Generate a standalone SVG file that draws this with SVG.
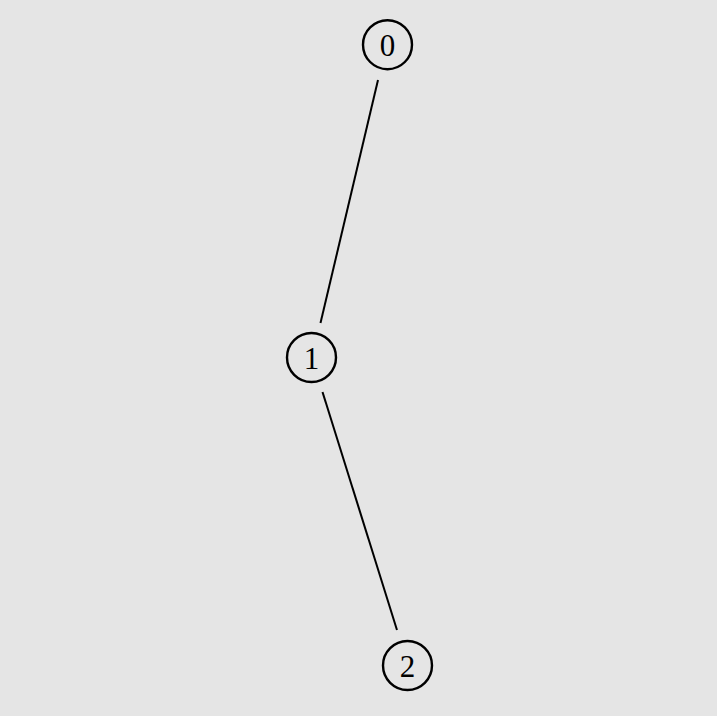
<svg xmlns="http://www.w3.org/2000/svg" width="717" height="716" viewBox="0 0 717 716">
<style>
.n circle{fill:none;stroke:#000;stroke-width:2.4}
.n text{font-family:"Liberation Serif","Times New Roman",serif;font-size:31px;text-anchor:middle;fill:#000}
#edges line{stroke:#000;stroke-width:2}
</style>
<rect width="717" height="716" fill="#e5e5e5"/>
<g id="edges">
<line x1="378" y1="80" x2="320.5" y2="323"/>
<line x1="322.5" y1="392" x2="397" y2="630"/>
</g>
<g id="node0" class="n"><circle cx="387.5" cy="44.7" r="24.5"/><text x="387.5" y="55.5">0</text></g>
<g id="node1" class="n"><circle cx="311.5" cy="357.5" r="24.5"/><text x="311.5" y="368.5">1</text></g>
<g id="node2" class="n"><circle cx="407.5" cy="665.5" r="24.5"/><text x="407.5" y="676.5">2</text></g>
</svg>
